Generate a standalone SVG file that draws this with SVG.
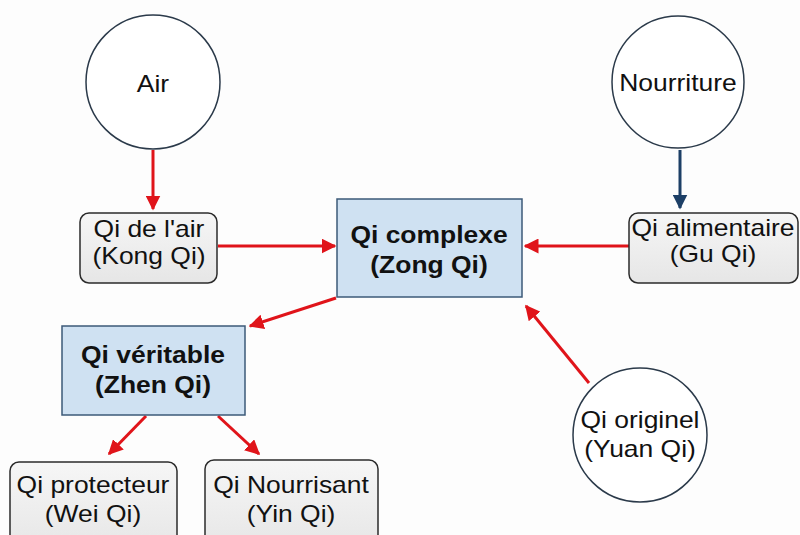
<svg xmlns="http://www.w3.org/2000/svg" width="800" height="535" viewBox="0 0 800 535">
<defs>
<marker id="ar" viewBox="0 0 10 10" refX="9" refY="5" markerWidth="5" markerHeight="5" markerUnits="strokeWidth" orient="auto"><path d="M0,0 L10,5 L0,10 z" fill="#e0141a"/></marker>
<marker id="ab" viewBox="0 0 10 10" refX="9" refY="5" markerWidth="5" markerHeight="5" markerUnits="strokeWidth" orient="auto"><path d="M0,0 L10,5 L0,10 z" fill="#1d3f66"/></marker>
<linearGradient id="g" x1="0" y1="0" x2="0" y2="1"><stop offset="0" stop-color="#f6f6f6"/><stop offset="1" stop-color="#e6e6e6"/></linearGradient>
</defs>
<style>
text{font-family:"Liberation Sans",Arial,sans-serif;font-size:23px;fill:#111;text-anchor:middle}
.b{font-weight:bold}
.circ{fill:#fff;stroke:#2b3a4a;stroke-width:1.5}
.grey{fill:url(#g);stroke:#2b2b2b;stroke-width:1.5}
.blue{fill:#cfe1f2;stroke:#3d5a78;stroke-width:1.5}
.red{stroke:#e0141a;stroke-width:3;fill:none;marker-end:url(#ar)}
.navy{stroke:#1d3f66;stroke-width:3;fill:none;marker-end:url(#ab)}
</style>
<rect width="800" height="535" fill="#fdfdfd"/>
<g id="connectors">
<line class="red" x1="153" y1="150" x2="153" y2="209"/>
<line class="navy" x1="680" y1="150" x2="680" y2="208"/>
<line class="red" x1="218" y1="246" x2="335" y2="246"/>
<line class="red" x1="629" y1="246" x2="525" y2="246"/>
<line class="red" x1="336" y1="298" x2="250" y2="326"/>
<line class="red" x1="589" y1="383" x2="526" y2="306"/>
<line class="red" x1="146" y1="416" x2="109" y2="454"/>
<line class="red" x1="218" y1="416" x2="259" y2="454"/>
</g>
<g id="air"><circle class="circ" cx="153" cy="82" r="67"/><text transform="translate(153,92) scale(1.15,1)">Air</text></g>
<g id="nourriture"><circle class="circ" cx="678" cy="82" r="66"/><text transform="translate(678,91) scale(1.15,1)">Nourriture</text></g>
<g id="qi-air"><rect class="grey" x="80" y="213" width="137" height="70" rx="9"/><text transform="translate(149,237) scale(1.15,1)">Qi de l'air</text><text transform="translate(149,264) scale(1.15,1)">(Kong Qi)</text></g>
<g id="qi-complexe"><rect class="blue" x="337" y="199" width="185" height="98"/><text class="b" transform="translate(429,243) scale(1.15,1)">Qi complexe</text><text class="b" transform="translate(429,273) scale(1.15,1)">(Zong Qi)</text></g>
<g id="qi-alimentaire"><rect class="grey" x="629" y="213" width="169" height="70" rx="9"/><text transform="translate(713,236) scale(1.15,1)">Qi alimentaire</text><text transform="translate(713,262) scale(1.15,1)">(Gu Qi)</text></g>
<g id="qi-veritable"><rect class="blue" x="62" y="326" width="183" height="89"/><text class="b" transform="translate(153,363) scale(1.15,1)">Qi véritable</text><text class="b" transform="translate(153,393) scale(1.15,1)">(Zhen Qi)</text></g>
<g id="qi-originel"><circle class="circ" cx="640" cy="435" r="67"/><text transform="translate(640,428) scale(1.15,1)">Qi originel</text><text transform="translate(640,457) scale(1.15,1)">(Yuan Qi)</text></g>
<g id="qi-protecteur"><rect class="grey" x="10" y="462" width="167" height="90" rx="9"/><text transform="translate(93,493) scale(1.15,1)">Qi protecteur</text><text transform="translate(93,522) scale(1.15,1)">(Wei Qi)</text></g>
<g id="qi-nourrisant"><rect class="grey" x="205" y="460" width="173" height="92" rx="9"/><text transform="translate(291,493) scale(1.15,1)">Qi Nourrisant</text><text transform="translate(291,522) scale(1.15,1)">(Yin Qi)</text></g>
</svg>
